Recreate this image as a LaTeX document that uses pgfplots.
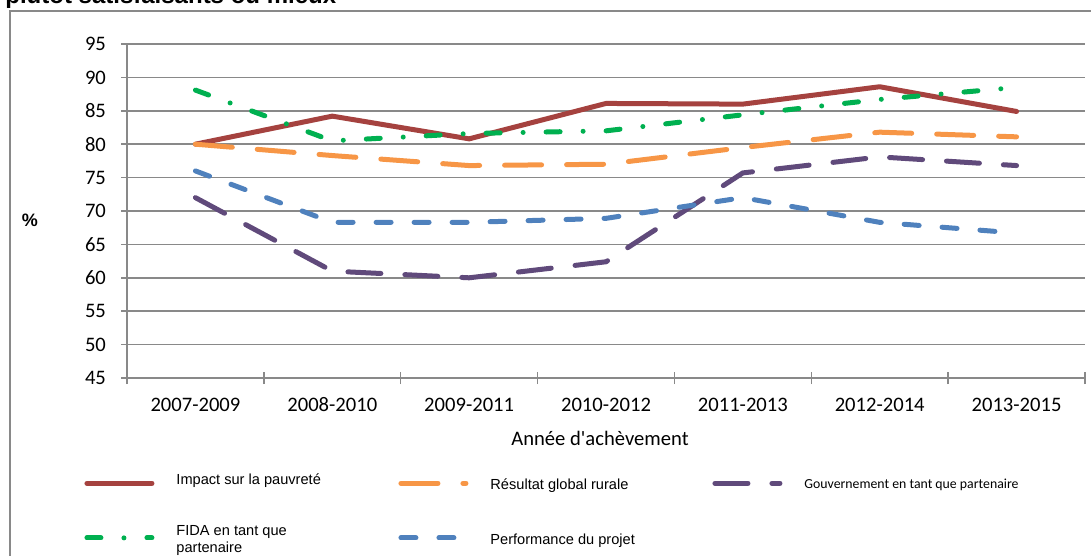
\documentclass[border=0pt]{standalone}
\usepackage{fontspec}
\setmainfont{Carlito}
\newfontfamily\arial{Liberation Sans}
\usepackage{pgfplots}
\pgfplotsset{compat=1.18}
\definecolor{cred}{HTML}{A5423F}
\definecolor{corange}{HTML}{F79646}
\definecolor{cpurple}{HTML}{604A7B}
\definecolor{cgreen}{HTML}{00B050}
\definecolor{cblue}{HTML}{4F81BD}
\definecolor{cgrid}{HTML}{898989}
\begin{document}
\begin{tikzpicture}
\useasboundingbox (0,0) rectangle (545.5pt,278pt);
\draw[cgrid, line width=1pt] (5pt,-2pt) -- (5pt,272.5pt) -- (548pt,272.5pt);
\node[anchor=base west, inner sep=0, font=\arial\bfseries\fontsize{12}{14}\selectfont] at (2.5pt,276pt) {plutôt satisfaisants ou mieux};
\node[font=\arial\bfseries\fontsize{9}{10}\selectfont] at (15pt,168pt) {\%};
\begin{axis}[
  at={(63.5pt,89pt)}, anchor=south west,
  scale only axis, width=479pt, height=167pt,
  xmin=-0.5, xmax=6.5, ymin=45, ymax=95,
  ytick={45,50,...,95},
  xtick={-0.5,0.5,...,6.5}, xticklabels={},
  extra x ticks={0,1,2,3,4,5,6},
  extra x tick labels={2007-2009,2008-2010,2009-2011,2010-2012,2011-2013,2012-2014,2013-2015},
  extra x tick style={tick style={draw=none}},
  axis x line*=bottom, axis y line*=left,
  axis line style={cgrid, line width=0.75pt, -},
  tick style={cgrid, line width=0.75pt},
  tick align=center, major tick length=6pt,
  ymajorgrids, grid style={cgrid, line width=0.75pt},
  /pgf/number format/assume math mode=true,
  ticklabel style={font=\fontsize{10.3}{12}\selectfont},
  yticklabel style={xshift=-4pt},
  xticklabel style={text height=6.6pt, text depth=0pt, yshift=-3.6pt},
  xlabel={Année d\textquotesingle achèvement},
  every axis x label/.style={at={(axis description cs:0.5,0)}, anchor=center, yshift=-30pt, xshift=-3pt, font=\fontsize{10.3}{12}\selectfont},
  legend columns=3,
  legend cell align=left,
  legend style={at={(-0.0511,-0.2604)}, anchor=north west, draw=none, fill=none,
    font=\arial\fontsize{7.3}{8.5}\selectfont, row sep=12pt, column sep=0pt,
    /tikz/every odd column/.append style={column sep=9pt}},
  legend image code/.code={\draw[#1] (0pt,0pt) -- (32.5pt,0pt);},
  every axis plot/.append style={line width=2.5pt, line cap=round, line join=round},
]
\addplot[cred] coordinates {(0,80) (1,84.2) (2,80.8) (3,86.1) (4,86) (5,88.6) (6,84.9)};
\addlegendentry{\makebox[109pt][l]{\raisebox{3pt}{Impact sur la pauvreté}}}
\addplot[corange, dash pattern=on 18.5pt off 12.5pt] coordinates {(0,80) (1,78.3) (2,76.8) (3,77) (4,79.5) (5,81.8) (6,81.1)};
\addlegendentry{\makebox[109pt][l]{\raisebox{-2pt}{Résultat global rurale}}}
\addplot[cpurple, dash pattern=on 16.5pt off 12pt] coordinates {(0,72) (1,61) (2,60) (3,62.4) (4,75.7) (5,78.1) (6,76.8)};
\addlegendentry{\makebox[109pt][l]{\raisebox{-2pt}{\rmfamily\fontsize{6.9}{8}\selectfont Gouvernement en tant que partenaire}}}
\addplot[cgreen, dash pattern=on 7pt off 11.5pt on 0pt off 11.5pt] coordinates {(0,88.1) (1,80.5) (2,81.6) (3,82) (4,84.4) (5,86.7) (6,88.5)};
\addlegendentry{\raisebox{2pt}{\parbox[c]{109pt}{FIDA en tant que\\partenaire}}}
\addplot[cblue, dash pattern=on 7.5pt off 11.5pt] coordinates {(0,76) (1,68.3) (2,68.3) (3,68.9) (4,72) (5,68.3) (6,66.7)};
\addlegendentry{\makebox[109pt][l]{\raisebox{-2.5pt}{Performance du projet}}}
\end{axis}
\end{tikzpicture}
\end{document}
